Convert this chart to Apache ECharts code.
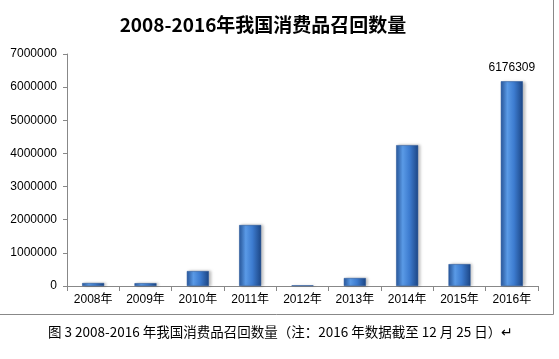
<!DOCTYPE html>
<html><head><meta charset="utf-8">
<script src="https://cdn.jsdelivr.net/npm/echarts@6/dist/echarts.min.js"></script>
<style>html,body{margin:0;padding:0;background:#fff;}#c{width:559px;height:359px;}</style>
</head><body><div id="c"></div>
<script>
const categories = ['2008年','2009年','2010年','2011年','2012年','2013年','2014年','2015年','2016年'];
const recalls = [90000, 85000, 450000, 1840000, 20000, 240000, 4250000, 660000, 6176309];
const yTicks = [0, 1000000, 2000000, 3000000, 4000000, 5000000, 6000000, 7000000];
const titleText = '2008-2016年我国消费品召回数量';
const captionText = '图 3 2008-2016 年我国消费品召回数量（注：2016 年数据截至 12 月 25 日）↵';

const chart = echarts.init(document.getElementById('c'));
const font = '"Liberation Sans","Noto Sans CJK SC",sans-serif';
chart.setOption({
  animation: false,
  title: {
    text: titleText, left: 258, top: 10, textAlign: 'center',
    textStyle: { fontFamily: '"Noto Sans CJK SC",sans-serif', fontSize: 19, fontWeight: 'bold', color: '#000' }
  },
  grid: { left: 67, right: 21, top: 54, bottom: 73 },
  xAxis: {
    type: 'category', data: categories,
    axisLine: { lineStyle: { color: '#888', width: 1 } },
    axisTick: { show: true, length: 5, lineStyle: { color: '#888' } },
    axisLabel: { color: '#000', fontSize: 12, fontFamily: font, margin: 8 }
  },
  yAxis: {
    type: 'value', min: yTicks[0], max: yTicks[yTicks.length - 1], interval: 1000000,
    axisLine: { show: true, lineStyle: { color: '#888', width: 1 } },
    axisTick: { show: true, length: 4, lineStyle: { color: '#888' } },
    splitLine: { show: false },
    axisLabel: { color: '#000', fontSize: 12, fontFamily: font, margin: 10, formatter: v => String(v) }
  },
  series: [{
    type: 'bar', data: recalls, barWidth: 22,
    itemStyle: {
      color: new echarts.graphic.LinearGradient(0, 0, 1, 0, [
        { offset: 0, color: '#2a5aa0' },
        { offset: 0.3, color: '#5a9ae6' },
        { offset: 0.6, color: '#3d7cd0' },
        { offset: 1, color: '#1c4685' }
      ]),
      borderColor: '#1f4f95', borderWidth: 0.5,
      shadowColor: 'rgba(0,0,0,0.25)', shadowBlur: 3, shadowOffsetX: 2
    },
    label: {
      show: true, position: 'top', distance: 8, color: '#000', fontSize: 12, fontFamily: font,
      formatter: p => p.dataIndex === categories.length - 1 ? String(p.value) : ''
    }
  }],
  graphic: [
    { type: 'line', shape: { x1: 553.5, y1: 0, x2: 553.5, y2: 314.5 }, style: { stroke: '#888', lineWidth: 1 } },
    { type: 'line', shape: { x1: 0, y1: 314.5, x2: 553.5, y2: 314.5 }, style: { stroke: '#888', lineWidth: 1 } },
    { type: 'text', left: 48, top: 325, style: { text: captionText, fontSize: 13.5, fontFamily: '"Noto Sans CJK SC",sans-serif', fill: '#000' } }
  ]
});
</script></body></html>
